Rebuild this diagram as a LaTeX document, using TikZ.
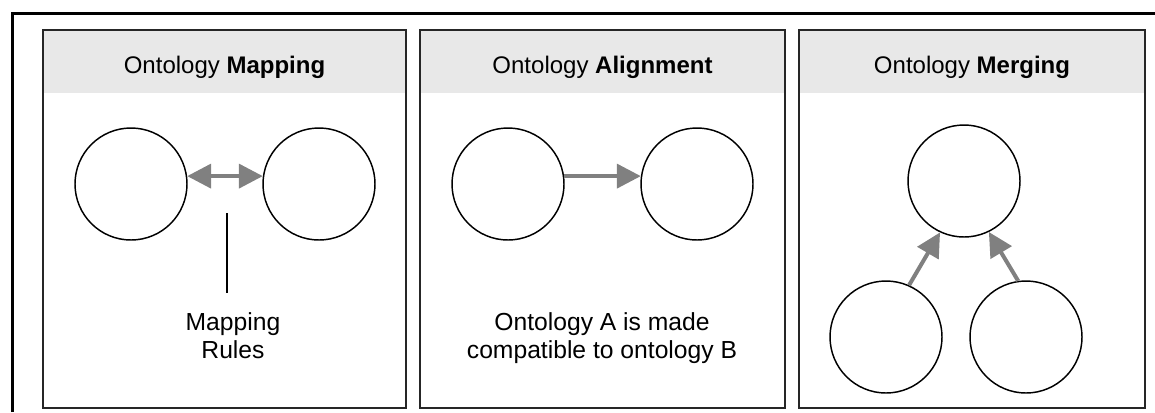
\documentclass[tikz,border=0pt]{standalone}
\usepackage{fontspec}
\setmainfont{Liberation Sans}
\usetikzlibrary{arrows.meta}

\begin{document}
\begin{tikzpicture}[x=0.75pt, y=-0.75pt,
  panel/.style={draw=black!85, line width=1.5pt},
  head/.style={fill=black!9},
  onto/.style={shape=circle, draw=black, line width=1.1pt, minimum size=84pt, inner sep=0pt},
  title/.style={anchor=base, font=\fontsize{18}{21}\selectfont},
  note/.style={anchor=base, align=center, font=\fontsize{18.5}{21}\selectfont},
  conn/.style={draw=black!50, line width=3pt}]
\useasboundingbox (0,0) rectangle (1155,412);
\draw[line width=2.25pt] (12,412) -- (12,13) -- (1155,13);

\fill[head] (43,30) rectangle (406,93);
\draw[panel] (43,30) rectangle (406,408);
\fill[head] (420,30) rectangle (785,93);
\draw[panel] (420,30) rectangle (785,408);
\fill[head] (799,30) rectangle (1145,93);
\draw[panel] (799,30) rectangle (1145,408);

\node[title] (tmap) at (224.5,73) {Ontology \textbf{Mapping}};
\node[title] (talign) at (602.5,73) {Ontology \textbf{Alignment}};
\node[title] (tmerge) at (972,73) {Ontology \textbf{Merging}};

\node[onto] (m1) at (131,184) {};
\node[onto] (m2) at (319,184) {};
\draw[conn, {Triangle[length=18pt, width=18pt]}-{Triangle[length=18pt, width=18pt]}] (m1.8) -- (m2.172);
\coordinate (rtop) at (227,213);
\coordinate (rbot) at (227,293);
\draw[line width=1pt] (rtop) -- (rbot);
\node[note] (rules) at (233,358) {Mapping\\Rules};

\node[onto] (a1) at (508,184) {};
\node[onto] (a2) at (697,184) {};
\draw[conn, -{Triangle[length=18pt, width=18pt]}] (a1.8) -- (a2.172);
\node[note] (compat) at (602,358) {Ontology A is made\\compatible to ontology B};

\node[onto] (g1) at (964,181) {};
\node[onto] (g2) at (886,337) {};
\node[onto] (g3) at (1026,337) {};
\draw[conn, -{Triangle[length=18pt, width=18pt]}] (g2.66) -- (g1.245);
\draw[conn, -{Triangle[length=18pt, width=18pt]}] (g3.98) -- (g1.296);
\end{tikzpicture}
\end{document}
